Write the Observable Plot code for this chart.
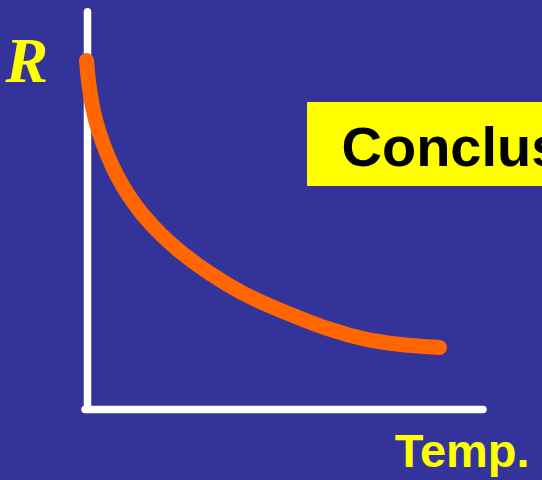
<!DOCTYPE html>
<html>
<head>
<meta charset="utf-8">
<script src="https://cdn.jsdelivr.net/npm/d3@7"></script>
<script src="https://cdn.jsdelivr.net/npm/@observablehq/plot@0.6"></script>
<style>
  html, body { margin: 0; padding: 0; background: #333399; }
  #chart svg { display: block; overflow: hidden; }
</style>
</head>
<body>
<div id="chart"></div>
<script>
// Curve: resistance R falling with temperature (arbitrary units)
const temp = [-0.025, 0.025, 0.125, 0.275, 0.475, 0.725, 1.025, 1.375, 1.825, 2.325, 3.075, 3.825, 4.575, 5.325, 6.075, 6.9, 7.825, 8.8];
const resistance = [8.725, 8.15, 7.525, 6.95, 6.4, 5.85, 5.3375, 4.8625, 4.375, 3.925, 3.375, 2.925, 2.575, 2.275, 1.9875, 1.75, 1.6125, 1.55];

// Axis extents
const axisX = [-0.05, 9.9];
const axisY = [0, 9.93];

// Labels
const yLabel = "R";
const xLabel = "Temp.";
const boxText = "Conclus";
const boxX = [5.5, 12];
const boxY = [5.575, 7.675];

const curve = temp.map((t, i) => ({temp: t, R: resistance[i]}));

const chart = Plot.plot({
  width: 542,
  height: 480,
  marginLeft: 87,
  marginRight: 55,
  marginTop: 9,
  marginBottom: 71,
  style: {background: "#333399", overflow: "hidden"},
  x: {domain: [0, 10], axis: null},
  y: {domain: [0, 10], axis: null},
  marks: [
    Plot.ruleX([0], {y1: axisY[0], y2: axisY[1], stroke: "white", strokeWidth: 7.5, strokeLinecap: "round"}),
    Plot.ruleY([0], {x1: axisX[0], x2: axisX[1], stroke: "white", strokeWidth: 7.5, strokeLinecap: "round"}),
    Plot.line(curve, {x: "temp", y: "R", stroke: "#FF6600", strokeWidth: 15, strokeLinecap: "round", curve: "basis"}),
    Plot.rect([{x1: boxX[0], x2: boxX[1], y1: boxY[0], y2: boxY[1]}], {x1: "x1", x2: "x2", y1: "y1", y2: "y2", fill: "#FFFF00"}),
    Plot.text([boxText], {x: 6.35, y: 6.1, text: d => d, textAnchor: "start", lineAnchor: "bottom",
      fill: "black", fontSize: 56, fontWeight: "bold", fontFamily: "Liberation Sans, Arial, sans-serif"}),
    Plot.text([yLabel], {x: -2.05, y: 8.2, text: d => d, textAnchor: "start", lineAnchor: "bottom",
      fill: "#FFFF00", fontSize: 64, fontWeight: "bold", fontStyle: "italic", fontFamily: "Liberation Serif, Times New Roman, serif"}),
    Plot.text([xLabel], {x: 7.68, y: -1.425, text: d => d, textAnchor: "start", lineAnchor: "bottom",
      fill: "#FFFF00", fontSize: 47, fontWeight: "bold", fontFamily: "Liberation Sans, Arial, sans-serif"})
  ]
});
document.getElementById("chart").append(chart);
</script>
</body>
</html>
